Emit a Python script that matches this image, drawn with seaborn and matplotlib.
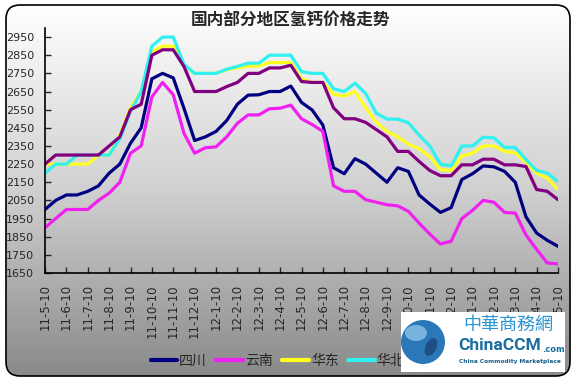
import numpy as np
import matplotlib
matplotlib.use("Agg")
import matplotlib.pyplot as plt
from matplotlib.patches import FancyBboxPatch, Rectangle, Circle, Ellipse
from matplotlib.lines import Line2D
import seaborn as sns
import pandas as pd

# half-month steps, 2011-05-10 .. 2013-05-10
tick_labels = ["11-5-10", "11-6-10", "11-7-10", "11-8-10", "11-9-10", "11-10-10",
               "11-11-10", "11-12-10", "12-1-10", "12-2-10", "12-3-10", "12-4-10",
               "12-5-10", "12-6-10", "12-7-10", "12-8-10", "12-9-10", "12-10-10",
               "12-11-10", "12-12-10", "13-1-10", "13-2-10", "13-3-10", "13-4-10",
               "13-5-10"]

sichuan = [2000, 2050, 2080, 2080, 2100, 2130, 2200, 2250, 2365, 2450,
           2720, 2750, 2725, 2558, 2380, 2400, 2430, 2490, 2580, 2630,
           2632, 2650, 2650, 2680, 2590, 2548, 2465, 2230, 2197, 2280,
           2250, 2200, 2150, 2230, 2210, 2080, 2030, 1984, 2010, 2165,
           2197, 2240, 2235, 2210, 2150, 1960, 1870, 1830, 1797]
yunnan = [1900, 1950, 2000, 2000, 2000, 2050, 2090, 2150, 2310, 2350,
          2620, 2700, 2632, 2420, 2310, 2340, 2345, 2400, 2475, 2521,
          2521, 2555, 2558, 2575, 2500, 2468, 2430, 2130, 2100, 2100,
          2054, 2040, 2026, 2020, 1990, 1925, 1865, 1810, 1825, 1950,
          1995, 2050, 2040, 1984, 1980, 1860, 1780, 1705, 1700]
huadong = [2250, 2250, 2250, 2250, 2250, 2300, 2300, 2410, 2560, 2650,
           2870, 2900, 2900, 2790, 2750, 2750, 2750, 2770, 2780, 2790,
           2790, 2810, 2810, 2810, 2720, 2700, 2700, 2635, 2625, 2650,
           2560, 2480, 2430, 2400, 2360, 2335, 2290, 2220, 2215, 2295,
           2310, 2350, 2350, 2320, 2312, 2260, 2200, 2173, 2110]
huabei = [2200, 2250, 2250, 2300, 2300, 2300, 2300, 2390, 2540, 2650,
          2900, 2950, 2950, 2800, 2750, 2750, 2750, 2773, 2788, 2806,
          2806, 2850, 2850, 2850, 2760, 2750, 2750, 2665, 2650, 2696,
          2640, 2530, 2498, 2498, 2478, 2410, 2350, 2250, 2240, 2350,
          2350, 2398, 2395, 2342, 2342, 2275, 2215, 2200, 2155]
xibei = [2250, 2300, 2300, 2300, 2300, 2300, 2350, 2400, 2550, 2580,
         2850, 2880, 2880, 2788, 2650, 2650, 2650, 2677, 2700, 2750,
         2750, 2780, 2780, 2795, 2705, 2700, 2700, 2560, 2500, 2500,
         2480, 2440, 2400, 2320, 2320, 2265, 2215, 2186, 2186, 2246,
         2246, 2277, 2277, 2246, 2246, 2237, 2110, 2100, 2054]

regions = ["四川", "云南", "华东", "华北", "西北"]
colors = ["#000080", "#F020F0", "#FFFF20", "#30F0F0", "#800080"]
series = [sichuan, yunnan, huadong, huabei, xibei]

step = np.arange(len(sichuan)) * 0.5
df = pd.concat([pd.DataFrame({"t": step, "price": s, "region": r})
                for r, s in zip(regions, series)], ignore_index=True)

sns.set_style("ticks")
plt.rcParams["font.family"] = ["DejaVu Sans", "Noto Sans CJK SC"]
cjk = ["Noto Sans CJK SC", "DejaVu Sans"]

W, H = 576, 382
fig = plt.figure(figsize=(W / 100, H / 100), dpi=100)

# background: rounded frame with grey gradient
bg = fig.add_axes([0, 0, 1, 1], zorder=-10)
bg.set_xlim(0, W)
bg.set_ylim(H, 0)
bg.axis("off")
grad = np.linspace(1.0, 0.0, 256).reshape(-1, 1)
frame = FancyBboxPatch((6, 5), 564, 371, boxstyle="round,pad=0,rounding_size=14",
                       facecolor="none", edgecolor="black", lw=1.2)
im = bg.imshow(grad, cmap=sns.blend_palette(["#8a8a8a", "#d0d0d0", "#ffffff"], as_cmap=True),
               extent=[6, 570, 376, 5], aspect="auto", vmin=0, vmax=1)
bg.add_patch(frame)
im.set_clip_path(frame)

ax = fig.add_axes([45 / W, (H - 273) / H, (558 - 45) / W, (273 - 28) / H])
ax.set_facecolor("none")
sns.lineplot(data=df, x="t", y="price", hue="region", hue_order=regions,
             palette=colors, lw=2.3, ax=ax, legend=False)

ax.set_xlim(0, 24)
ax.set_ylim(1650, 3000)
ax.set_yticks(np.arange(1650, 3000, 100))
ax.set_xticks(np.arange(len(tick_labels)))
ax.set_xticklabels(tick_labels, rotation=90, fontsize=8.5)
ax.tick_params(axis="y", direction="in", length=4, pad=8, labelsize=8, width=1)
ax.tick_params(axis="x", direction="in", length=4, pad=8, width=1)
ax.set_xlabel("")
ax.set_ylabel("")
for s in ["top", "right"]:
    ax.spines[s].set_visible(False)
for s in ["left", "bottom"]:
    ax.spines[s].set_color("black")
    ax.spines[s].set_linewidth(1.2)

fig.text(291 / W, 1 - 21 / H, "国内部分地区氢钙价格走势", ha="center", va="center",
         fontsize=12, fontweight="bold", family=cjk)

handles = [Line2D([], [], color=c, lw=3) for c in colors]
leg = fig.legend(handles, regions, loc="center left", ncol=5,
                 bbox_to_anchor=(138 / W, 1 - 361 / H), frameon=False,
                 handlelength=1.9, handletextpad=0.15, columnspacing=0.7,
                 prop={"family": cjk, "size": 10})

# site logo overlay
top = fig.add_axes([0, 0, 1, 1], zorder=20)
top.set_xlim(0, W)
top.set_ylim(H, 0)
top.axis("off")
top.add_patch(Rectangle((401, 312), 164, 60, facecolor="white", edgecolor="none"))
top.add_patch(Circle((423, 342), 22, facecolor="#2a78b8", edgecolor="none"))
top.add_patch(Ellipse((416, 333), 22, 16, facecolor="#8cc3e8", edgecolor="none", alpha=0.8))
top.add_patch(Ellipse((431, 347), 11, 19, angle=25, facecolor="#1d4f86", edgecolor="none"))
top.text(508, 325, "中華商務網", ha="center", va="center", fontsize=13,
         color="#2b95d3", family=cjk)
top.text(458, 346, "ChinaCCM", ha="left", va="center", fontsize=12.5,
         fontweight="bold", color="#1b6e9e", family="Roboto")
top.text(542, 349, ".com", ha="left", va="center", fontsize=6,
         fontweight="bold", color="#1b6e9e")
top.text(459, 362, "China Commodity Marketplace", ha="left", va="center", fontsize=4.2,
         fontweight="bold", color="#1b5e8e")

fig.savefig("out.png", dpi=100)
